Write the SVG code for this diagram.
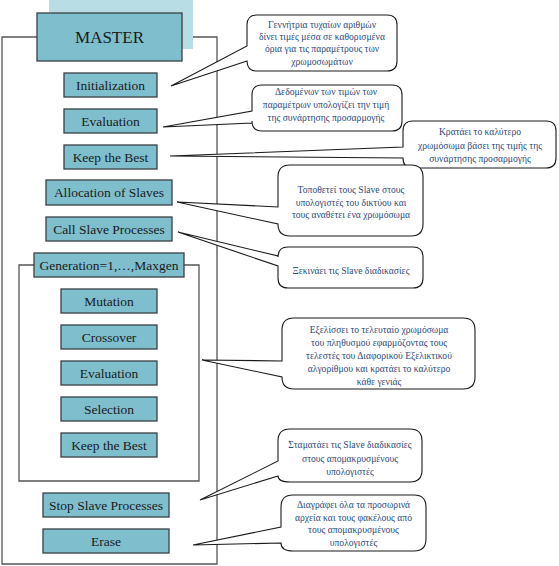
<svg xmlns="http://www.w3.org/2000/svg" width="559" height="566" viewBox="0 0 559 566">
<style>
.box{fill:#7fbfcd;stroke:#3a3f42;stroke-width:1.3}
.bt{font-size:13.5px;fill:#1a1a1a;text-anchor:middle}
.frame{fill:none;stroke:#555;stroke-width:1.3}
.co{fill:#fff;stroke:#1a1a1a;stroke-width:1.1}
.ct{font-size:9.6px;fill:#2b4a7c;text-anchor:middle}
</style>
<rect width="559" height="566" fill="#fff"/>
<g id="connectors">
<path class="frame" d="M37,37 H2 V564 H217 V37 H182"/>
<path class="frame" d="M34,265 H19 V481 H199 V265 H184"/>
</g>
<g font-family="Liberation Serif, serif">
<g id="master">
<rect x="49" y="0" width="144" height="49" fill="#b9dde5"/>
<rect class="box" x="37" y="13" width="145" height="48"/>
<text x="109.5" y="43" font-size="17px" fill="#1a1a1a" text-anchor="middle">MASTER</text>
</g>
<g id="initialization"><rect class="box" x="64" y="73" width="93" height="24"/><text class="bt" x="110.5" y="89.5">Initialization</text></g>
<g id="evaluation1"><rect class="box" x="64" y="109" width="93" height="24"/><text class="bt" x="110.5" y="125.5">Evaluation</text></g>
<g id="keepbest1"><rect class="box" x="64" y="145" width="93" height="24"/><text class="bt" x="110.5" y="161.5">Keep the Best</text></g>
<g id="allocation"><rect class="box" x="46" y="180" width="126" height="25"/><text class="bt" x="109" y="197">Allocation of Slaves</text></g>
<g id="callslave"><rect class="box" x="46" y="217" width="126" height="24"/><text class="bt" x="109" y="233.5">Call Slave Processes</text></g>
<g id="generation"><rect class="box" x="34" y="253" width="150" height="24"/><text class="bt" x="109" y="269.5">Generation=1,…,Maxgen</text></g>
<g id="mutation"><rect class="box" x="61" y="289" width="96" height="24"/><text class="bt" x="109" y="305.5">Mutation</text></g>
<g id="crossover"><rect class="box" x="61" y="325" width="96" height="24"/><text class="bt" x="109" y="341.5">Crossover</text></g>
<g id="evaluation2"><rect class="box" x="61" y="361" width="96" height="24"/><text class="bt" x="109" y="377.5">Evaluation</text></g>
<g id="selection"><rect class="box" x="61" y="397" width="96" height="24"/><text class="bt" x="109" y="413.5">Selection</text></g>
<g id="keepbest2"><rect class="box" x="61" y="433" width="96" height="24"/><text class="bt" x="109" y="449.5">Keep the Best</text></g>
<g id="stopslave"><rect class="box" x="43" y="493" width="126" height="24"/><text class="bt" x="106" y="509.5">Stop Slave Processes</text></g>
<g id="erase"><rect class="box" x="43" y="529" width="126" height="24"/><text class="bt" x="106" y="545.5">Erase</text></g>

<g id="callout1">
<path class="co" d="M257,15 H387 Q397,15 397,25 V61 Q397,71 387,71 H257 Q247,71 247,61 V61 L171,86 L247,46 V25 Q247,15 257,15 Z"/>
<text class="ct" x="322" y="27.5">Γεννήτρια τυχαίων αριθμών</text>
<text class="ct" x="322" y="39.5">δίνει τιμές μέσα σε καθορισμένα</text>
<text class="ct" x="322" y="52">όρια για τις παραμέτρους των</text>
<text class="ct" x="322" y="64.5">χρωμοσωμάτων</text>
</g>
<g id="callout2">
<path class="co" d="M262,85 H392 Q402,85 402,95 V121 Q402,131 392,131 H262 Q252,131 252,121 V123 L163,127 L252,111 V95 Q252,85 262,85 Z"/>
<text class="ct" x="326" y="94.5">Δεδομένων των τιμών των</text>
<text class="ct" x="326" y="107.5">παραμέτρων υπολογίζει την τιμή</text>
<text class="ct" x="326" y="120.5">της συνάρτησης προσαρμογής</text>
</g>
<g id="callout3">
<path class="co" d="M413,121 H546 Q556,121 556,131 V158 Q556,168 546,168 H413 Q403,168 403,158 L170,156 L403,147 V131 Q403,121 413,121 Z"/>
<text class="ct" x="480" y="135">Κρατάει το καλύτερο</text>
<text class="ct" x="480" y="149">χρωμόσωμα βάσει της τιμής της</text>
<text class="ct" x="480" y="162">συνάρτησης προσαρμογής</text>
</g>
<g id="callout4">
<path class="co" d="M290,165 H411 Q423,165 423,177 V224 Q423,236 411,236 H290 Q278,236 278,224 L177,202 L278,207 V177 Q278,165 290,165 Z"/>
<text class="ct" x="351" y="192.5">Τοποθετεί τους Slave στους</text>
<text class="ct" x="351" y="205.5">υπολογιστές του δικτύου και</text>
<text class="ct" x="351" y="218">τους αναθέτει ένα χρωμόσωμα</text>
</g>
<g id="callout5">
<path class="co" d="M288,247 H413 Q423,247 423,257 V278 Q423,288 413,288 H288 Q278,288 278,278 V266 L178,232 L278,256 V257 Q278,247 288,247 Z"/>
<text class="ct" x="351" y="273.5">Ξεκινάει τις Slave διαδικασίες</text>
</g>
<g id="callout6">
<path class="co" d="M294,318 H463 Q475,318 475,330 V377 Q475,389 463,389 H294 Q282,389 282,377 L202,360 L282,361 V330 Q282,318 294,318 Z"/>
<text class="ct" x="379" y="333">Εξελίσσει το τελευταίο χρωμόσωμα</text>
<text class="ct" x="379" y="346">του πληθυσμού εφαρμόζοντας τους</text>
<text class="ct" x="379" y="358.5">τελεστές του Διαφορικού Εξελικτικού</text>
<text class="ct" x="379" y="371.5">αλγορίθμου και κρατάει το καλύτερο</text>
<text class="ct" x="379" y="384.5">κάθε γενιάς</text>
</g>
<g id="callout7">
<path class="co" d="M290,429 H410 Q422,429 422,441 V470 Q422,482 410,482 H290 Q278,482 278,476 L200,500 L278,461 V441 Q278,429 290,429 Z"/>
<text class="ct" x="350" y="447.5">Σταματάει τις Slave διαδικασίες</text>
<text class="ct" x="350" y="461.5">στους απομακρυσμένους</text>
<text class="ct" x="350" y="474.5">υπολογιστές</text>
</g>
<g id="callout8">
<path class="co" d="M293,495 H414 Q426,495 426,507 V539 Q426,551 414,551 H293 Q281,551 281,543 L193,545 L281,527 V507 Q281,495 293,495 Z"/>
<text class="ct" x="353.5" y="507.5">Διαγράφει όλα τα προσωρινά</text>
<text class="ct" x="353.5" y="520.5">αρχεία και τους φακέλους από</text>
<text class="ct" x="353.5" y="533">τους απομακρυσμένους</text>
<text class="ct" x="353.5" y="545.5">υπολογιστές</text>
</g>
</g>
</svg>
